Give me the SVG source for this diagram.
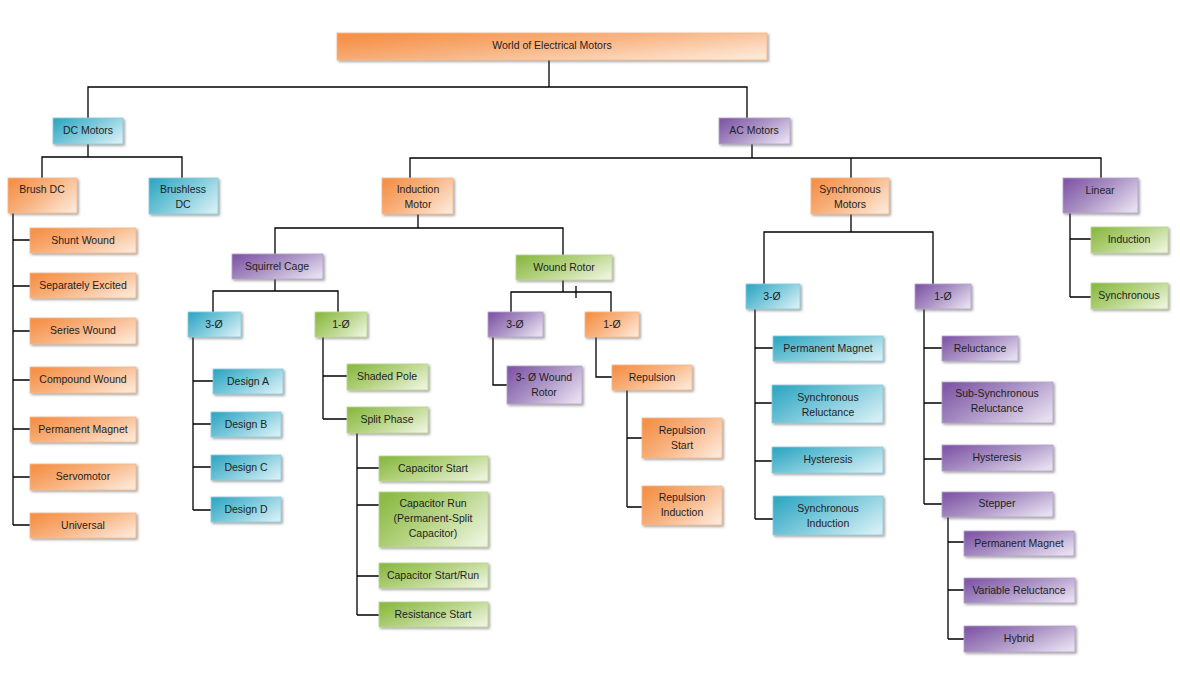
<svg xmlns="http://www.w3.org/2000/svg" width="1180" height="698" viewBox="0 0 1180 698">
<style>
.o{fill:url(#go);stroke:#f2b98c;stroke-width:0.8}
.t{fill:url(#gt);stroke:#8fcbd9;stroke-width:0.8}
.p{fill:url(#gp);stroke:#b5a3c9;stroke-width:0.8}
.g{fill:url(#gg);stroke:#bcd595;stroke-width:0.8}
rect{filter:url(#sh)}
text{font-family:"Liberation Sans",Arial,sans-serif;font-size:10.5px;fill:#1e1e1e;text-anchor:middle}
#connectors path{fill:none;stroke:#000;stroke-width:1.3}
</style>
<defs>
<linearGradient id="go" x1="0" y1="0.2" x2="1" y2="0.8"><stop offset="0" stop-color="#f59148"/><stop offset="0.45" stop-color="#f8b27f"/><stop offset="1" stop-color="#fde6d4"/></linearGradient>
<linearGradient id="gt" x1="0" y1="0.2" x2="1" y2="0.8"><stop offset="0" stop-color="#35a9c4"/><stop offset="0.45" stop-color="#79c8da"/><stop offset="1" stop-color="#d3eef4"/></linearGradient>
<linearGradient id="gp" x1="0" y1="0.2" x2="1" y2="0.8"><stop offset="0" stop-color="#8259a8"/><stop offset="0.45" stop-color="#a991c4"/><stop offset="1" stop-color="#e6def0"/></linearGradient>
<linearGradient id="gg" x1="0" y1="0.2" x2="1" y2="0.8"><stop offset="0" stop-color="#8cba46"/><stop offset="0.45" stop-color="#b3d27f"/><stop offset="1" stop-color="#ebf3db"/></linearGradient>
<filter id="sh" x="-10%" y="-20%" width="130%" height="160%"><feDropShadow dx="1.5" dy="1.5" stdDeviation="0.8" flood-color="#555" flood-opacity="0.55"/></filter>
</defs>
<rect width="1180" height="698" fill="#fff" style="filter:none"/>
<g id="connectors">
<path d="M549 60V87M88 118V87H747V118"/>
<path d="M88 144V157M42 178V157H182V178"/>
<path d="M13 213V525M13 240H30M13 286H30M13 331H30M13 380H30M13 429H30M13 477H30M13 525H30"/>
<path d="M752 144V158M410 178V158H1101V178M851 158V178"/>
<path d="M418 214V228M275 254V228H563V255"/>
<path d="M275 279V291M213 312V291H338V312"/>
<path d="M193 337V510M193 381H213M193 424H211M193 467H211M193 510H211"/>
<path d="M323 337V419M323 376H347M323 419H347"/>
<path d="M357 433V615M357 468H379M357 505H379M357 576H379M357 615H379"/>
<path d="M563 280V292M511 312V292H611V312M576 286V298"/>
<path d="M493 337V385H507M596 337V377H612"/>
<path d="M627 390V507M627 438H642M627 507H642"/>
<path d="M851 214V232M764 284V232H933V284"/>
<path d="M755 309V519M755 348H773M755 403H772M755 461H772M755 519H773"/>
<path d="M924 309V504M924 348H942M924 403H942M924 459H942M924 504H942"/>
<path d="M948 517V639M948 542H964M948 590H964M948 639H964"/>
<path d="M1070 213V297M1070 239H1091M1070 297H1091"/>
</g>
<g id="root"><rect class="o" x="337" y="33" width="430" height="27"/><text x="552" y="49">World of Electrical Motors</text></g>
<g id="dc"><rect class="t" x="53" y="118" width="70" height="26"/><text x="88" y="134">DC Motors</text></g>
<g id="ac"><rect class="p" x="719" y="118" width="71" height="26"/><text x="754" y="134">AC Motors</text></g>
<g id="brushdc"><rect class="o" x="8" y="178" width="69" height="35"/><text x="42" y="193">Brush DC</text></g>
<g id="brushless"><rect class="t" x="149" y="178" width="69" height="36"/><text x="183" y="193">Brushless</text><text x="183" y="208">DC</text></g>
<g id="shunt"><rect class="o" x="30" y="228" width="106" height="25"/><text x="83" y="244">Shunt Wound</text></g>
<g id="separately"><rect class="o" x="30" y="273" width="106" height="25"/><text x="83" y="289">Separately Excited</text></g>
<g id="series"><rect class="o" x="30" y="318" width="106" height="26"/><text x="83" y="334">Series Wound</text></g>
<g id="compound"><rect class="o" x="30" y="367" width="106" height="26"/><text x="83" y="383">Compound Wound</text></g>
<g id="pm-dc"><rect class="o" x="30" y="417" width="106" height="25"/><text x="83" y="433">Permanent Magnet</text></g>
<g id="servo"><rect class="o" x="30" y="464" width="106" height="26"/><text x="83" y="480">Servomotor</text></g>
<g id="universal"><rect class="o" x="30" y="513" width="106" height="25"/><text x="83" y="529">Universal</text></g>
<g id="induction"><rect class="o" x="382" y="178" width="71" height="36"/><text x="418" y="193">Induction</text><text x="418" y="208">Motor</text></g>
<g id="squirrel"><rect class="p" x="232" y="254" width="91" height="25"/><text x="277" y="270">Squirrel Cage</text></g>
<g id="sq3"><rect class="t" x="188" y="312" width="53" height="25"/><text x="214" y="328">3-Ø</text></g>
<g id="sq1"><rect class="g" x="315" y="312" width="52" height="25"/><text x="341" y="328">1-Ø</text></g>
<g id="designa"><rect class="t" x="213" y="369" width="70" height="25"/><text x="248" y="385">Design A</text></g>
<g id="designb"><rect class="t" x="211" y="412" width="70" height="25"/><text x="246" y="428">Design B</text></g>
<g id="designc"><rect class="t" x="211" y="455" width="70" height="25"/><text x="246" y="471">Design C</text></g>
<g id="designd"><rect class="t" x="211" y="497" width="70" height="25"/><text x="246" y="513">Design D</text></g>
<g id="shaded"><rect class="g" x="347" y="364" width="81" height="26"/><text x="387" y="380">Shaded Pole</text></g>
<g id="split"><rect class="g" x="347" y="407" width="81" height="26"/><text x="387" y="423">Split Phase</text></g>
<g id="capstart"><rect class="g" x="379" y="456" width="109" height="25"/><text x="433" y="472">Capacitor Start</text></g>
<g id="caprun"><rect class="g" x="379" y="492" width="109" height="55"/><text x="433" y="507">Capacitor Run</text><text x="433" y="522">(Permanent-Split</text><text x="433" y="537">Capacitor)</text></g>
<g id="capstartrun"><rect class="g" x="379" y="563" width="109" height="25"/><text x="433" y="579">Capacitor Start/Run</text></g>
<g id="resistance"><rect class="g" x="379" y="602" width="109" height="25"/><text x="433" y="618">Resistance Start</text></g>
<g id="wound"><rect class="g" x="516" y="255" width="96" height="25"/><text x="564" y="271">Wound Rotor</text></g>
<g id="wr3"><rect class="p" x="488" y="312" width="55" height="25"/><text x="515" y="328">3-Ø</text></g>
<g id="wr1"><rect class="o" x="585" y="312" width="54" height="25"/><text x="612" y="328">1-Ø</text></g>
<g id="wr3wound"><rect class="p" x="507" y="366" width="75" height="38"/><text x="544" y="381">3- Ø Wound</text><text x="544" y="396">Rotor</text></g>
<g id="repulsion"><rect class="o" x="612" y="365" width="80" height="25"/><text x="652" y="381">Repulsion</text></g>
<g id="repstart"><rect class="o" x="642" y="418" width="80" height="40"/><text x="682" y="434">Repulsion</text><text x="682" y="449">Start</text></g>
<g id="repind"><rect class="o" x="642" y="486" width="80" height="39"/><text x="682" y="501">Repulsion</text><text x="682" y="516">Induction</text></g>
<g id="sync"><rect class="o" x="811" y="178" width="78" height="36"/><text x="850" y="193">Synchronous</text><text x="850" y="208">Motors</text></g>
<g id="sy3"><rect class="t" x="746" y="284" width="54" height="25"/><text x="772" y="300">3-Ø</text></g>
<g id="sy1"><rect class="p" x="915" y="284" width="56" height="25"/><text x="943" y="300">1-Ø</text></g>
<g id="pm-sync"><rect class="t" x="773" y="336" width="110" height="25"/><text x="828" y="352">Permanent Magnet</text></g>
<g id="syncrel"><rect class="t" x="772" y="385" width="111" height="38"/><text x="828" y="401">Synchronous</text><text x="828" y="416">Reluctance</text></g>
<g id="hyst3"><rect class="t" x="772" y="447" width="111" height="26"/><text x="828" y="463">Hysteresis</text></g>
<g id="syncind"><rect class="t" x="773" y="496" width="110" height="39"/><text x="828" y="512">Synchronous</text><text x="828" y="527">Induction</text></g>
<g id="reluct"><rect class="p" x="942" y="336" width="76" height="25"/><text x="980" y="352">Reluctance</text></g>
<g id="subsync"><rect class="p" x="942" y="382" width="111" height="41"/><text x="997" y="397">Sub-Synchronous</text><text x="997" y="412">Reluctance</text></g>
<g id="hyst1"><rect class="p" x="942" y="445" width="111" height="26"/><text x="997" y="461">Hysteresis</text></g>
<g id="stepper"><rect class="p" x="942" y="492" width="111" height="25"/><text x="997" y="507">Stepper</text></g>
<g id="pm-step"><rect class="p" x="964" y="531" width="110" height="25"/><text x="1019" y="547">Permanent Magnet</text></g>
<g id="varrel"><rect class="p" x="964" y="578" width="111" height="25"/><text x="1019" y="594">Variable Reluctance</text></g>
<g id="hybrid"><rect class="p" x="964" y="626" width="111" height="26"/><text x="1019" y="642">Hybrid</text></g>
<g id="linear"><rect class="p" x="1063" y="178" width="75" height="35"/><text x="1100" y="194">Linear</text></g>
<g id="lin-ind"><rect class="g" x="1091" y="227" width="77" height="26"/><text x="1129" y="243">Induction</text></g>
<g id="lin-sync"><rect class="g" x="1091" y="283" width="77" height="26"/><text x="1129" y="299">Synchronous</text></g>
</svg>
